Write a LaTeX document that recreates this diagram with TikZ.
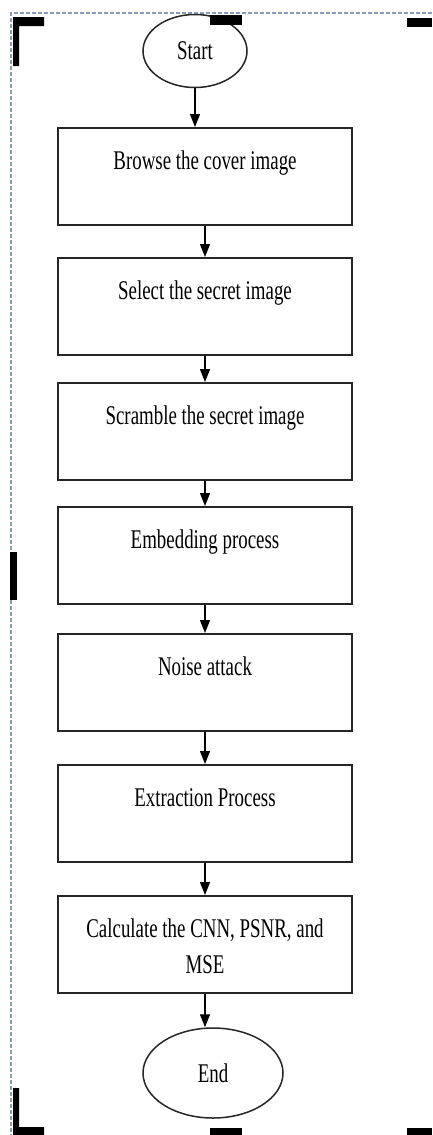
\documentclass[tikz,border=0pt]{standalone}
\usepackage{fontspec}
\setmainfont{Liberation Serif}
\usetikzlibrary{arrows.meta,shapes.geometric}
\definecolor{framecol}{RGB}{135,155,195}
\newcommand{\narrow}[1]{\scalebox{0.70}[1]{#1}}
\newcommand{\boxtext}[1]{\parbox[t][97pt][t]{294pt}{\centering\rule{0pt}{41pt}#1}}
\begin{document}
\begin{tikzpicture}[x=1pt,y=-1pt,
    procbox/.style={draw=black!85, line width=2pt, inner sep=0pt, anchor=north,
        font=\fontsize{27}{36}\selectfont},
    terminal/.style={draw=black!85, ellipse, line width=1.5pt, inner sep=0pt,
        font=\fontsize{27}{30}\selectfont},
    flow/.style={-{Triangle[length=13pt,width=10pt]}, line width=1.1pt}]
    \useasboundingbox (0,0) rectangle (432,1135);
    % Dashed frame
    \draw [framecol, line width=1.6pt, dash pattern=on 4pt off 2pt] (432,13) -- (11,13) -- (11,1135);
    % Terminals and steps
    \node [terminal, minimum width=104pt, minimum height=73pt] (start) at (195,51) {\narrow{Start}};
    \node [procbox] (browse) at (205,127) {\boxtext{\narrow{Browse the cover image}}};
    \node [procbox] (select) at (205,257) {\boxtext{\narrow{Select the secret image}}};
    \node [procbox] (scramble) at (205,382) {\boxtext{\narrow{Scramble the secret image}}};
    \node [procbox] (embed) at (205,506) {\boxtext{\narrow{Embedding process}}};
    \node [procbox] (noise) at (205,633) {\boxtext{\narrow{Noise attack}}};
    \node [procbox] (extract) at (205,764) {\boxtext{\narrow{Extraction Process}}};
    \node [procbox] (calc) at (205,895) {\boxtext{\narrow{Calculate the CNN, PSNR, and}\\\narrow{MSE}}};
    \node [terminal, minimum width=140pt, minimum height=90pt] (stop) at (213,1073) {\narrow{End}};
    % Arrows
    \draw [flow] (start.south) -- (start.south |- browse.north);
    \draw [flow] (browse) -- (select);
    \draw [flow] (select) -- (scramble);
    \draw [flow] (scramble) -- (embed);
    \draw [flow] (embed) -- (noise);
    \draw [flow] (noise) -- (extract);
    \draw [flow] (extract) -- (calc);
    \draw [flow] (calc.south) -- (calc.south |- stop.north);
    % Crop marks
    \fill [black] (13,17) rectangle (44,26) (13,17) rectangle (19,66);
    \fill [black] (210,15) rectangle (242,25);
    \fill [black] (407,18) rectangle (432,27);
    \fill [black] (10,552) rectangle (17,600);
    \fill [black] (13,1088) rectangle (19,1135) (13,1127) rectangle (44,1135);
    \fill [black] (210,1128) rectangle (242,1135);
    \fill [black] (407,1128) rectangle (432,1135);
\end{tikzpicture}
\end{document}
